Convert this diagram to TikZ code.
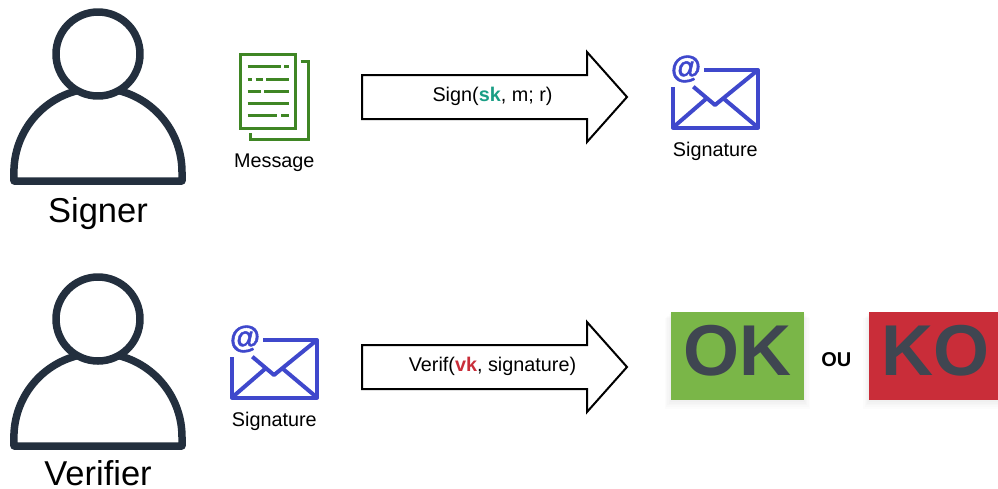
\documentclass[tikz,border=0pt]{standalone}
\usepackage{fontspec}
\setmainfont{Liberation Sans}
\newfontfamily\atfont[FakeBold=1.5]{Liberation Sans Bold}
\definecolor{ink}{HTML}{232F3E}
\definecolor{docgreen}{HTML}{3F8624}
\definecolor{mailblue}{HTML}{3F48CC}
\definecolor{okgreen}{HTML}{7AB648}
\definecolor{kored}{HTML}{C92D39}
\definecolor{bigtext}{HTML}{3F4651}
\definecolor{skteal}{HTML}{1A9E85}
\tikzset{
  persona/.style={draw=ink,line width=7.5pt,line join=round},
  bigarrow/.style={draw=black,line width=2pt,fill=white,line join=miter},
  doc/.style={draw=docgreen,line width=3pt},
  docline/.style={draw=docgreen,line width=3pt},
  mail/.style={draw=mailblue,line width=4pt,line join=round},
  label/.style={font=\fontsize{19.8}{24}\selectfont,inner sep=0pt,text=black},
  biglabel/.style={font=\fontsize{34.5}{42}\selectfont,inner sep=0pt,text=black},
  verdict/.style={font=\bfseries\fontsize{72}{80}\selectfont,inner sep=0pt,text=bigtext},
  softshadow/.style={fill=black,fill opacity=0.012,draw=none},
}
\newcommand{\personicon}[1]{%
  \begin{scope}[yshift=-#1 pt]
    \draw[persona] (77.6,90.6) arc[start angle=-104,end angle=-180,radius=84] -- (14,181) -- (182,181) -- (182,172) arc[start angle=0,end angle=-76,radius=84];
    \draw[persona] (98,54) circle[radius=42];
  \end{scope}}
\newcommand{\mailicon}[3]{%
  \begin{scope}[xshift=#1 pt,yshift=-#2 pt]
    \draw[mail] (704,70) -- (758,70) -- (758,127.5) -- (673,127.5) -- (673,86.7);
    \draw[mail] (758,70) -- (715,105) -- (693.3,86.7);
    \draw[mail] (673,127.5) -- (706.5,98.5);
    \draw[mail] (758,127.5) -- (723.5,98.5);
    \node[inner sep=0pt,text=mailblue,font=\atfont\fontsize{31}{36}\selectfont] (#3) at (686,69) {@};
  \end{scope}}
\newcommand{\softbox}[4]{%
  \foreach \g in {10,8,6,4,2,0}{
    \fill[softshadow] (#1-\g*0.6,#2+\g*0.6) rectangle (#3+\g*0.6,#4+\g*0.9);
  }}
\begin{document}
\begin{tikzpicture}[x=1pt,y=-1pt]
\useasboundingbox (0,0) rectangle (998,488);
% people
\personicon{0}
\personicon{265}
\node[biglabel] (signer) at (98,213.5) {Signer};
\node[biglabel] (verifier) at (98,473.4) {Verifier};
% document icon
\draw[doc] (240.5,54) rectangle (295.5,128.5);
\draw[doc] (300.7,61.5) -- (308.5,61.5) -- (308.5,139.5) -- (250.5,139.5) -- (250.5,133);
\foreach \yy/\xa/\xb in {66.7/247.7/281,66.7/284/288.7,
  79/247.7/251.7,79/255.7/263.3,79/266/288.7,
  91/247.7/261,91/264.3/288.7,
  103.3/247.7/288.7,
  115.7/247.7/277.3,115.7/281/288.7}{
  \draw[docline] (\xa,\yy) -- (\xb,\yy);
}
\node[label] (message) at (274.3,163) {Message};
% arrows
\draw[bigarrow] (362,75) -- (587,75) -- (587,52) -- (627,97) -- (587,142) -- (587,119) -- (362,119) -- cycle;
\node[label] (signop) at (492.5,96) {Sign(\textbf{\textcolor{skteal}{sk}}, m; r)};
\draw[bigarrow] (362,345) -- (587,345) -- (587,322) -- (627,367) -- (587,412) -- (587,389) -- (362,389) -- cycle;
\node[label] (verifop) at (492.5,366) {Verif(\textbf{\textcolor{kored}{vk}}, signature)};
% envelopes
\mailicon{0}{0}{atone}
\node[label] (sigone) at (715.3,151.5) {Signature};
\mailicon{-441}{270}{attwo}
\node[label] (sigtwo) at (274.3,421.5) {Signature};
% verdict boxes
\softbox{671}{312}{803.7}{400}
\softbox{869.3}{312}{998}{400}
\fill[okgreen] (671,312) rectangle (803.7,400);
\fill[kored] (869.3,312) rectangle (1002,400);
\node[verdict] (ok) at (737.5,351) {OK};
\node[verdict] (ko) at (935.6,351) {KO};
\node[inner sep=0pt,font=\bfseries\fontsize{20}{24}\selectfont] (ou) at (836.3,360) {OU};
\end{tikzpicture}
\end{document}
